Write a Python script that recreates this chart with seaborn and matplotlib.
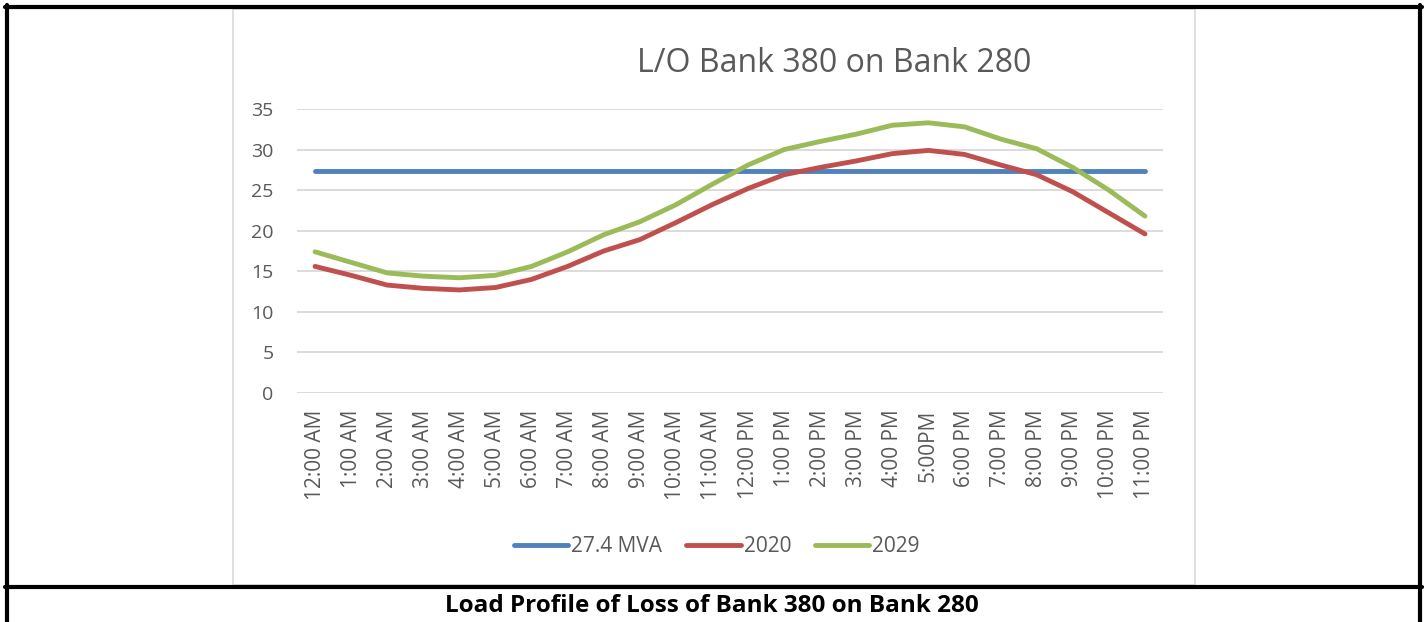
import pandas as pd
import matplotlib
matplotlib.use('Agg')
import matplotlib.pyplot as plt
import seaborn as sns
from matplotlib.lines import Line2D
from matplotlib.patches import Rectangle

# hourly labels as they appear on the chart
hours = ['12:00 AM', '1:00 AM', '2:00 AM', '3:00 AM', '4:00 AM', '5:00 AM',
         '6:00 AM', '7:00 AM', '8:00 AM', '9:00 AM', '10:00 AM', '11:00 AM',
         '12:00 PM', '1:00 PM', '2:00 PM', '3:00 PM', '4:00 PM', '5:00PM',
         '6:00 PM', '7:00 PM', '8:00 PM', '9:00 PM', '10:00 PM', '11:00 PM']

# rating line (MVA)
rating = [27.4] * 24

# load values (MVA)
load_2020 = [15.6, 14.5, 13.3, 12.9, 12.7, 13.0, 14.0, 15.6, 17.5, 18.9, 21.0, 23.2,
             25.2, 26.9, 27.8, 28.6, 29.5, 29.9, 29.4, 28.1, 26.9, 24.8, 22.2, 19.6]
load_2029 = [17.4, 16.1, 14.8, 14.4, 14.2, 14.5, 15.6, 17.4, 19.5, 21.1, 23.2, 25.7,
             28.1, 30.0, 31.0, 31.9, 33.0, 33.3, 32.8, 31.3, 30.1, 27.8, 25.0, 21.8]

series_names = ['27.4 MVA', '2020', '2029']
colors = ['#4f81bd', '#c0504d', '#9bbb59']

df = pd.DataFrame({'Hour': hours, '27.4 MVA': rating, '2020': load_2020, '2029': load_2029})
long_df = df.melt(id_vars='Hour', var_name='Series', value_name='MVA')

sns.set_style('white')
plt.rcParams['font.family'] = ['Open Sans', 'DejaVu Sans']

W, H = 1424, 622
fig = plt.figure(figsize=(W / 100, H / 100), dpi=100)
ax = fig.add_axes([297 / W, 1 - 393 / H, (1163 - 297) / W, (393 - 109) / H])

sns.lineplot(data=long_df, x='Hour', y='MVA', hue='Series', hue_order=series_names,
             palette=colors, linewidth=3.5, sort=False, ax=ax, legend=False,
             solid_capstyle='round')

ax.set_ylim(0, 35)
ax.set_yticks(range(0, 36, 5))
ax.set_xlim(-0.5, 23.5)
ax.set_xlabel('')
ax.set_ylabel('')
ax.grid(axis='y', color='#d9d9d9', linewidth=1.3)
ax.grid(axis='x', visible=False)
ax.set_axisbelow(True)
for s in ax.spines.values():
    s.set_visible(False)
ax.tick_params(axis='both', length=0, colors='#595959')
ax.tick_params(axis='y', pad=17, labelsize=14)
ax.tick_params(axis='x', pad=12, labelsize=15)
plt.setp(ax.get_xticklabels(), rotation=90)

# title
fig.text(834 / W, 1 - 63 / H, 'L/O Bank 380 on Bank 280', ha='center', va='center',
         fontsize=23, color='#595959')

# legend
handles = [Line2D([0], [0], color=c, lw=3.5, solid_capstyle='round') for c in colors]
fig.legend(handles, series_names, loc='center', bbox_to_anchor=(717 / W, 1 - 547 / H),
           ncol=3, frameon=False, fontsize=15, handlelength=2.6, columnspacing=1.15,
           handletextpad=0.15, labelcolor='#595959')

# chart area border
fig.add_artist(Rectangle((233 / W, 1 - 585 / H), (1195 - 233) / W, (585 - 9) / H,
                         transform=fig.transFigure, fill=False, edgecolor='#d9d9d9', lw=1.2))

# table borders
def hline(y, x0, x1, lw):
    fig.add_artist(Line2D([x0 / W, x1 / W], [1 - y / H, 1 - y / H], color='black', lw=lw,
                          transform=fig.transFigure))

def vline(x, y0, y1, lw):
    fig.add_artist(Line2D([x / W, x / W], [1 - y0 / H, 1 - y1 / H], color='black', lw=lw,
                          transform=fig.transFigure))

hline(7, 5, 1422, 3)
hline(587, 5, 1422, 3)
vline(7, 5, 622, 3)
vline(1420, 5, 622, 3)

# caption
fig.text(712 / W, 1 - 606 / H, 'Load Profile of Loss of Bank 380 on Bank 280',
         ha='center', va='center', fontsize=17.5, fontweight='bold', color='black')

fig.savefig('out.png', dpi=100)
